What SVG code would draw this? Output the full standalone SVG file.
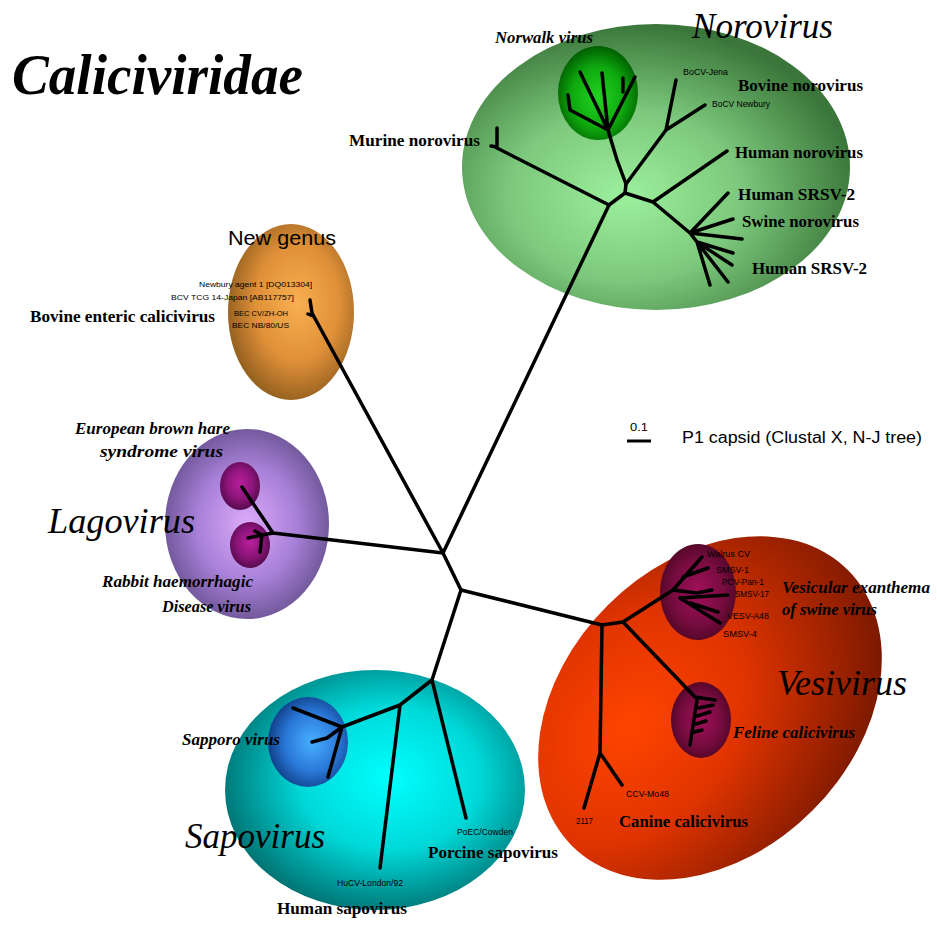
<svg xmlns="http://www.w3.org/2000/svg" width="937" height="926" viewBox="0 0 937 926">
<style>
.br{fill:none;stroke:#000;stroke-width:3.5;stroke-linecap:round;stroke-linejoin:round}
.bs{font-family:"Liberation Serif",serif;font-weight:bold;font-size:17px;fill:#000}
.bi{font-family:"Liberation Serif",serif;font-weight:bold;font-style:italic;font-size:16px;fill:#000}
.big{font-family:"Liberation Serif",serif;font-style:italic;font-size:36px;fill:#000}
.sm{font-family:"Liberation Sans",sans-serif;font-size:9px;fill:#000}
.ss{font-family:"Liberation Sans",sans-serif;fill:#000}
</style>
<defs>
<radialGradient id="gNoro" cx="0.42" cy="0.6" r="0.6"><stop offset="0" stop-color="#9cf09c"/><stop offset="0.5" stop-color="#7cc87c"/><stop offset="1" stop-color="#3a763a"/></radialGradient>
<radialGradient id="gNor" cx="0.5" cy="0.55" r="0.55"><stop offset="0" stop-color="#22d422"/><stop offset="0.6" stop-color="#0ea80e"/><stop offset="1" stop-color="#005e00"/></radialGradient>
<radialGradient id="gNew" cx="0.55" cy="0.45" r="0.6"><stop offset="0" stop-color="#f8b050"/><stop offset="0.55" stop-color="#e09038"/><stop offset="1" stop-color="#8a5a1c"/></radialGradient>
<radialGradient id="gLago" cx="0.5" cy="0.5" r="0.55"><stop offset="0" stop-color="#dcaafa"/><stop offset="0.55" stop-color="#a880d8"/><stop offset="1" stop-color="#66508e"/></radialGradient>
<radialGradient id="gLi" cx="0.5" cy="0.45" r="0.55"><stop offset="0" stop-color="#b8209c"/><stop offset="0.6" stop-color="#8a1478"/><stop offset="1" stop-color="#560a4c"/></radialGradient>
<radialGradient id="gVesi" cx="0.32" cy="0.35" r="0.75"><stop offset="0" stop-color="#ff4400"/><stop offset="0.45" stop-color="#e03400"/><stop offset="1" stop-color="#781800"/></radialGradient>
<radialGradient id="gVi" cx="0.5" cy="0.5" r="0.55"><stop offset="0" stop-color="#a0105a"/><stop offset="0.6" stop-color="#780c40"/><stop offset="1" stop-color="#4e0624"/></radialGradient>
<radialGradient id="gSapo" cx="0.55" cy="0.45" r="0.6"><stop offset="0" stop-color="#00ffff"/><stop offset="0.5" stop-color="#00d8d8"/><stop offset="1" stop-color="#006868"/></radialGradient>
<radialGradient id="gSi" cx="0.55" cy="0.5" r="0.55"><stop offset="0" stop-color="#48b0ff"/><stop offset="0.6" stop-color="#2a78d8"/><stop offset="1" stop-color="#10408a"/></radialGradient>
</defs>
<rect width="937" height="926" fill="#fff"/>
<text class="bi" x="12" y="94" style="font-size:56px" textLength="291" lengthAdjust="spacingAndGlyphs">Caliciviridae</text>

<g id="norovirus">
<ellipse cx="656" cy="167" rx="194" ry="143" fill="url(#gNoro)"/>
<ellipse cx="598" cy="93" rx="40" ry="47" fill="url(#gNor)"/>
<text class="big" x="692" y="38" textLength="141" lengthAdjust="spacingAndGlyphs">Norovirus</text>
<text class="bi" x="495" y="43" textLength="98" lengthAdjust="spacingAndGlyphs">Norwalk virus</text>
<text class="sm" x="683" y="75" textLength="45" lengthAdjust="spacingAndGlyphs">BoCV-Jena</text>
<text class="bs" x="738" y="91" textLength="125" lengthAdjust="spacingAndGlyphs">Bovine norovirus</text>
<text class="sm" x="712" y="107" textLength="58" lengthAdjust="spacingAndGlyphs">BoCV Newbury</text>
<text class="bs" x="349" y="146" textLength="131" lengthAdjust="spacingAndGlyphs">Murine norovirus</text>
<text class="bs" x="735" y="158" textLength="128" lengthAdjust="spacingAndGlyphs">Human norovirus</text>
<text class="bs" x="738" y="200" textLength="117" lengthAdjust="spacingAndGlyphs">Human SRSV-2</text>
<text class="bs" x="742" y="227" textLength="117" lengthAdjust="spacingAndGlyphs">Swine norovirus</text>
<text class="bs" x="752" y="274" textLength="115" lengthAdjust="spacingAndGlyphs">Human SRSV-2</text>
</g>

<g id="new-genus">
<ellipse cx="291" cy="312" rx="63" ry="88" fill="url(#gNew)"/>
<text class="ss" x="228" y="245" style="font-size:21px" textLength="108" lengthAdjust="spacingAndGlyphs">New genus</text>
<text class="ss" x="199" y="287" style="font-size:8px" textLength="113" lengthAdjust="spacingAndGlyphs">Newbury agent 1 [DQ013304]</text>
<text class="ss" x="171" y="300" style="font-size:8px" textLength="123" lengthAdjust="spacingAndGlyphs">BCV TCG 14-Japan [AB117757]</text>
<text class="ss" x="234" y="316" style="font-size:8px" textLength="54" lengthAdjust="spacingAndGlyphs">BEC CV/ZH-OH</text>
<text class="ss" x="232" y="328" style="font-size:8px" textLength="57" lengthAdjust="spacingAndGlyphs">BEC NB/80/US</text>
<text class="bs" x="30" y="322" textLength="185" lengthAdjust="spacingAndGlyphs">Bovine enteric calicivirus</text>
</g>

<g id="lagovirus">
<ellipse cx="247" cy="524" rx="82" ry="95" fill="url(#gLago)"/>
<ellipse cx="240" cy="486" rx="20" ry="24" fill="url(#gLi)"/>
<ellipse cx="250" cy="545" rx="20" ry="23" fill="url(#gLi)"/>
<text class="bi" x="75" y="434" textLength="155" lengthAdjust="spacingAndGlyphs">European brown hare</text>
<text class="bi" x="100" y="457" textLength="123" lengthAdjust="spacingAndGlyphs">syndrome virus</text>
<text class="big" x="48" y="533" textLength="147" lengthAdjust="spacingAndGlyphs">Lagovirus</text>
<text class="bi" x="102" y="587" textLength="151" lengthAdjust="spacingAndGlyphs">Rabbit haemorrhagic</text>
<text class="bi" x="162" y="612" textLength="89" lengthAdjust="spacingAndGlyphs">Disease virus</text>
</g>

<g id="vesivirus">
<ellipse cx="710" cy="708" rx="195" ry="145" transform="rotate(-45 710 708)" fill="url(#gVesi)"/>
<ellipse cx="698" cy="592" rx="38" ry="48" fill="url(#gVi)"/>
<ellipse cx="701" cy="720" rx="30" ry="38" fill="url(#gVi)"/>
<text class="sm" x="707" y="557" textLength="43" lengthAdjust="spacingAndGlyphs">Walrus CV</text>
<text class="sm" x="716" y="573" textLength="33" lengthAdjust="spacingAndGlyphs">SMSV-1</text>
<text class="sm" x="722" y="585" textLength="42" lengthAdjust="spacingAndGlyphs">PCV-Pan-1</text>
<text class="sm" x="735" y="597" textLength="34" lengthAdjust="spacingAndGlyphs">SMSV-17</text>
<text class="sm" x="727" y="619" textLength="42" lengthAdjust="spacingAndGlyphs">VESV-A48</text>
<text class="sm" x="723" y="637" textLength="34" lengthAdjust="spacingAndGlyphs">SMSV-4</text>
<text class="bi" x="782" y="593" textLength="148" lengthAdjust="spacingAndGlyphs">Vesicular exanthema</text>
<text class="bi" x="782" y="615" textLength="95" lengthAdjust="spacingAndGlyphs">of swine virus</text>
<text class="big" x="777" y="695" textLength="130" lengthAdjust="spacingAndGlyphs">Vesivirus</text>
<text class="bi" x="733" y="738" textLength="122" lengthAdjust="spacingAndGlyphs">Feline calicivirus</text>
<text class="sm" x="626" y="797" textLength="43" lengthAdjust="spacingAndGlyphs">CCV-Mo48</text>
<text class="sm" x="576" y="824" textLength="17" lengthAdjust="spacingAndGlyphs">2117</text>
<text class="bs" x="619" y="827" textLength="129" lengthAdjust="spacingAndGlyphs">Canine calicivirus</text>
</g>

<g id="sapovirus">
<ellipse cx="375" cy="790" rx="150" ry="120" fill="url(#gSapo)"/>
<ellipse cx="308" cy="742" rx="40" ry="45" fill="url(#gSi)"/>
<text class="bi" x="182" y="745" textLength="98" lengthAdjust="spacingAndGlyphs">Sapporo virus</text>
<text class="big" x="185" y="848" textLength="140" lengthAdjust="spacingAndGlyphs">Sapovirus</text>
<text class="sm" x="457" y="835" textLength="56" lengthAdjust="spacingAndGlyphs">PoEC/Cowden</text>
<text class="bs" x="428" y="858" textLength="130" lengthAdjust="spacingAndGlyphs">Porcine sapovirus</text>
<text class="sm" x="337" y="886" textLength="66" lengthAdjust="spacingAndGlyphs">HuCV-London/92</text>
<text class="bs" x="277" y="914" textLength="130" lengthAdjust="spacingAndGlyphs">Human sapovirus</text>
</g>

<g id="scale">
<text class="ss" x="630" y="431" style="font-size:10px" textLength="18" lengthAdjust="spacingAndGlyphs">0.1</text>
<line x1="627" y1="441" x2="651" y2="441" stroke="#000" stroke-width="3"/>
<text class="ss" x="682" y="443" style="font-size:16px" textLength="240" lengthAdjust="spacingAndGlyphs">P1 capsid (Clustal X, N-J tree)</text>
</g>

<g id="connectors" class="br">
<path d="M443 553 L461 590"/>
<path d="M443 553 L609 205"/>
<path d="M443 553 L312 313 L310 300 M308 314 L313 316"/>
<path d="M443 553 L273 533 L242 487 M273 533 L262 535 L248 538 M262 535 L260 552 M262 535 L255 531"/>
<path d="M609 205 L495 147 M497 128 L497 147 L491 146"/>
<path d="M609 205 L625 193 L626 184 L617 160 L608 130 L580 72 M608 130 L602 73 M608 130 L635 77 M623 92 L623 78 M608 130 L570 110 L568 95"/>
<path d="M626 184 L666 130 L676 80 M666 130 L705 105"/>
<path d="M625 193 L653 202 L727 151 M653 202 L690 233 L728 193 M690 233 L733 219 M690 233 L742 239 M690 233 L697 242 L733 253 M697 242 L732 265 M697 242 L728 282 M697 242 L710 285"/>
<path d="M461 590 L602 625 L623 622 L673 590 L702 557 M683 577 L708 568 M673 590 L697 593 L712 590 M680 598 L728 595 M690 603 L718 612 M680 598 L720 623"/>
<path d="M623 622 L695 697 L715 700 M697 700 L690 745 M699 708 L713 705 M697 716 L710 712 M696 724 L706 721 M694 732 L702 730"/>
<path d="M602 625 L600 753 L584 808 M600 753 L622 785"/>
<path d="M461 590 L432 680 L466 818 M432 680 L400 705 L380 868 M400 705 L342 727 L293 708 M342 727 L327 738 L312 742 M342 727 L328 777"/>
</g>
</svg>
